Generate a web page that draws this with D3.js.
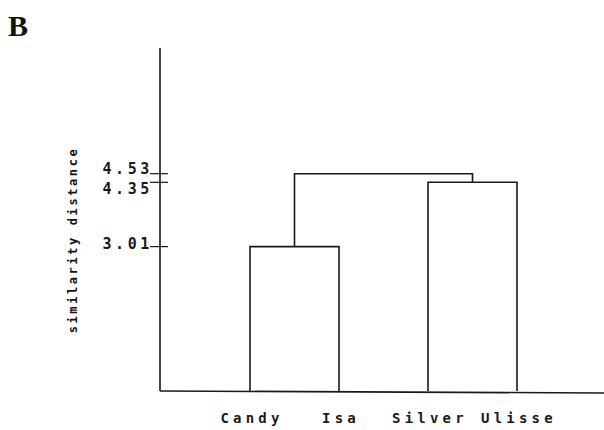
<!DOCTYPE html>
<html><head><meta charset="utf-8">
<script src="https://cdn.jsdelivr.net/npm/d3@7"></script>
<style>body{margin:0;background:#fff}svg{display:block}</style>
</head><body>
<script>
const leaves = ["Candy", "Isa", "Silver", "Ulisse"];
const mergeLeft = ["Candy", "Silver", "m0"];
const mergeRight = ["Isa", "Ulisse", "m1"];
const mergeHeights = [3.01, 4.35, 4.53];
const tickValues = [4.53, 4.35, 3.01];
const tickLabels = ["4.53", "4.35", "3.01"];

const W = 604, H = 430;
const svg = d3.select("body").append("svg").attr("width", W).attr("height", H);
const x = d3.scalePoint().domain(leaves).range([250, 517]);
const y = d3.scaleLinear().domain([0, 7.15]).range([391, 48]);
const ink = "#1a1a1a";

// panel letter
svg.append("text").attr("x", 8).attr("y", 36)
  .attr("font-family", "Liberation Serif").attr("font-weight", "bold")
  .attr("font-size", 30).attr("fill", "#111").text("B");

// axes
svg.append("line").attr("x1", 160).attr("x2", 160).attr("y1", y(7.15)).attr("y2", y(0))
  .attr("stroke", ink).attr("stroke-width", 1.6);
svg.append("line").attr("x1", 160).attr("x2", 604).attr("y1", y(0)).attr("y2", y(0) + 2)
  .attr("stroke", ink).attr("stroke-width", 1.6);

// y ticks
const nudge = v => v === 4.53 ? -4 : (v === 4.35 ? 7 : -2);
tickValues.forEach((v, i) => {
  svg.append("line").attr("x1", 150).attr("x2", 168).attr("y1", y(v)).attr("y2", y(v))
    .attr("stroke", ink).attr("stroke-width", 1.2);
  svg.append("text").attr("x", 153).attr("y", y(v) + nudge(v))
    .attr("text-anchor", "end").attr("dominant-baseline", "middle")
    .attr("font-family", "DejaVu Sans Mono").attr("font-weight", "bold")
    .attr("font-size", 15).attr("letter-spacing", 3.6).attr("fill", ink)
    .text(tickLabels[i]);
});

// y label
svg.append("text").attr("transform", "translate(77,240) rotate(-90)")
  .attr("text-anchor", "middle")
  .attr("font-family", "DejaVu Sans Mono").attr("font-weight", "bold")
  .attr("font-size", 12).attr("letter-spacing", 2.6).attr("fill", "#111")
  .text("similarity distance");

// x labels
leaves.forEach(l => {
  svg.append("text").attr("x", x(l) + 2).attr("y", 423).attr("text-anchor", "middle")
    .attr("font-family", "DejaVu Sans Mono").attr("font-weight", "bold")
    .attr("font-size", 14).attr("letter-spacing", 4.2).attr("fill", ink).text(l);
});

// dendrogram
const nodeX = {}, nodeH = {};
leaves.forEach(l => { nodeX[l] = x(l); nodeH[l] = 0; });
mergeHeights.forEach((h, i) => {
  const a = mergeLeft[i], b = mergeRight[i];
  const p = d3.path();
  p.moveTo(nodeX[a], y(nodeH[a]));
  p.lineTo(nodeX[a], y(h));
  p.lineTo(nodeX[b], y(h));
  p.lineTo(nodeX[b], y(nodeH[b]));
  svg.append("path").attr("d", p.toString()).attr("fill", "none")
    .attr("stroke", ink).attr("stroke-width", 1.6);
  nodeX["m" + i] = (nodeX[a] + nodeX[b]) / 2;
  nodeH["m" + i] = h;
});
</script>
</body></html>
